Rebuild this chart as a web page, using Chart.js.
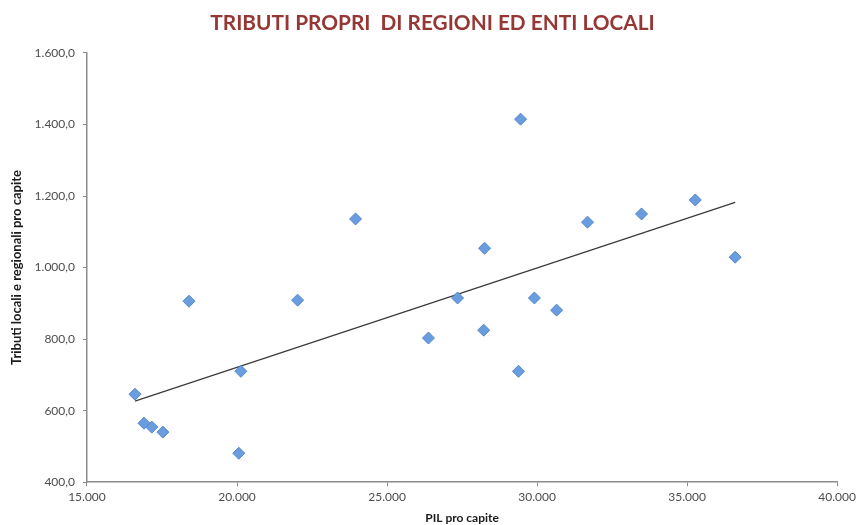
<!DOCTYPE html>
<html>
<head>
<meta charset="utf-8">
<script src="https://cdn.jsdelivr.net/npm/chart.js@4"></script>
<style>
  html, body { margin: 0; padding: 0; background: #ffffff; }
  #wrap { width: 860px; height: 525px; }
</style>
</head>
<body>
<div id="wrap"><canvas id="chart" width="860" height="525"></canvas></div>
<script>
// PIL pro capite (euro) per regione
const pilProCapite = [16600, 16900, 17160, 17530, 18400, 20060, 20130, 22020, 23950, 26380, 27350, 28220, 28250, 29380, 29450, 29910, 30650, 31680, 33480, 35270, 36600];
// Tributi locali e regionali pro capite (euro)
const tributiProCapite = [646, 565, 554, 540, 906, 481, 710, 909, 1136, 803, 915, 825, 1054, 710, 1415, 915, 881, 1127, 1150, 1189, 1029];

const xTicks = [15000, 20000, 25000, 30000, 35000, 40000];
const yTicks = [400, 600, 800, 1000, 1200, 1400, 1600];

// Italian number formatting: thousands with '.', decimals with ','
function fmt(v, decimals) {
  const parts = v.toFixed(decimals).split('.');
  parts[0] = parts[0].replace(/\B(?=(\d{3})+(?!\d))/g, '.');
  return parts.join(',');
}

// Least-squares linear trend over the scatter points
function linearTrend(xs, ys) {
  const n = xs.length;
  const mx = xs.reduce((a, b) => a + b, 0) / n;
  const my = ys.reduce((a, b) => a + b, 0) / n;
  let sxy = 0, sxx = 0;
  for (let i = 0; i < n; i++) {
    sxy += (xs[i] - mx) * (ys[i] - my);
    sxx += (xs[i] - mx) * (xs[i] - mx);
  }
  const slope = sxy / sxx;
  const icpt = my - slope * mx;
  const x0 = Math.min(...xs), x1 = Math.max(...xs);
  return [{ x: x0, y: icpt + slope * x0 }, { x: x1, y: icpt + slope * x1 }];
}

const points = pilProCapite.map((x, i) => ({ x: x, y: tributiProCapite[i] }));
const trend = linearTrend(pilProCapite, tributiProCapite);

const axisGray = '#8c8c8c';
const tickText = '#4d4d4d';
const fontFamily = 'Lato, "Open Sans", sans-serif';

new Chart(document.getElementById('chart'), {
  type: 'scatter',
  data: {
    datasets: [
      {
        label: 'Tributi',
        data: points,
        pointStyle: 'rectRot',
        pointRadius: 6,
        pointHoverRadius: 6,
        backgroundColor: '#6a9de0',
        borderColor: '#5586c8',
        borderWidth: 1,
        order: 1
      },
      {
        label: 'Tendenza',
        type: 'line',
        data: trend,
        borderColor: '#3a3a3a',
        borderWidth: 1.2,
        pointRadius: 0,
        fill: false,
        order: 2
      }
    ]
  },
  options: {
    responsive: false,
    animation: false,
    layout: { padding: { left: 9, right: 4, top: 2, bottom: 0 } },
    plugins: {
      legend: { display: false },
      tooltip: { enabled: false },
      title: {
        display: true,
        text: 'TRIBUTI PROPRI  DI REGIONI ED ENTI LOCALI',
        color: '#953735',
        font: { family: fontFamily, size: 20.8, weight: 'bold' },
        padding: { top: 9, bottom: 17 }
      }
    },
    scales: {
      x: {
        type: 'linear',
        min: 15000,
        max: 40000,
        afterBuildTicks: (axis) => { axis.ticks = xTicks.map(v => ({ value: v })); },
        border: { color: axisGray, width: 1.5 },
        grid: { display: true, drawOnChartArea: false, drawTicks: true, tickLength: 4, color: axisGray },
        ticks: {
          color: tickText,
          font: { family: fontFamily, size: 12 },
          padding: 4,
          maxRotation: 0,
          callback: (v) => fmt(v, 0)
        },
        title: {
          display: true,
          text: 'PIL pro capite',
          color: '#1a1a1a',
          font: { family: fontFamily, size: 12, weight: 'bold' },
          padding: { top: 2, bottom: 0 }
        }
      },
      y: {
        type: 'linear',
        min: 400,
        max: 1600,
        afterBuildTicks: (axis) => { axis.ticks = yTicks.map(v => ({ value: v })); },
        border: { color: axisGray, width: 1.5 },
        grid: { display: true, drawOnChartArea: false, drawTicks: true, tickLength: 4, color: axisGray },
        ticks: {
          color: tickText,
          font: { family: fontFamily, size: 12 },
          padding: 8,
          callback: (v) => fmt(v, 1)
        },
        title: {
          display: true,
          text: 'Tributi locali e regionali pro capite',
          color: '#1a1a1a',
          font: { family: fontFamily, size: 13, weight: 'bold' },
          padding: { top: 0, bottom: 2 }
        }
      }
    }
  }
});
</script>
</body>
</html>
